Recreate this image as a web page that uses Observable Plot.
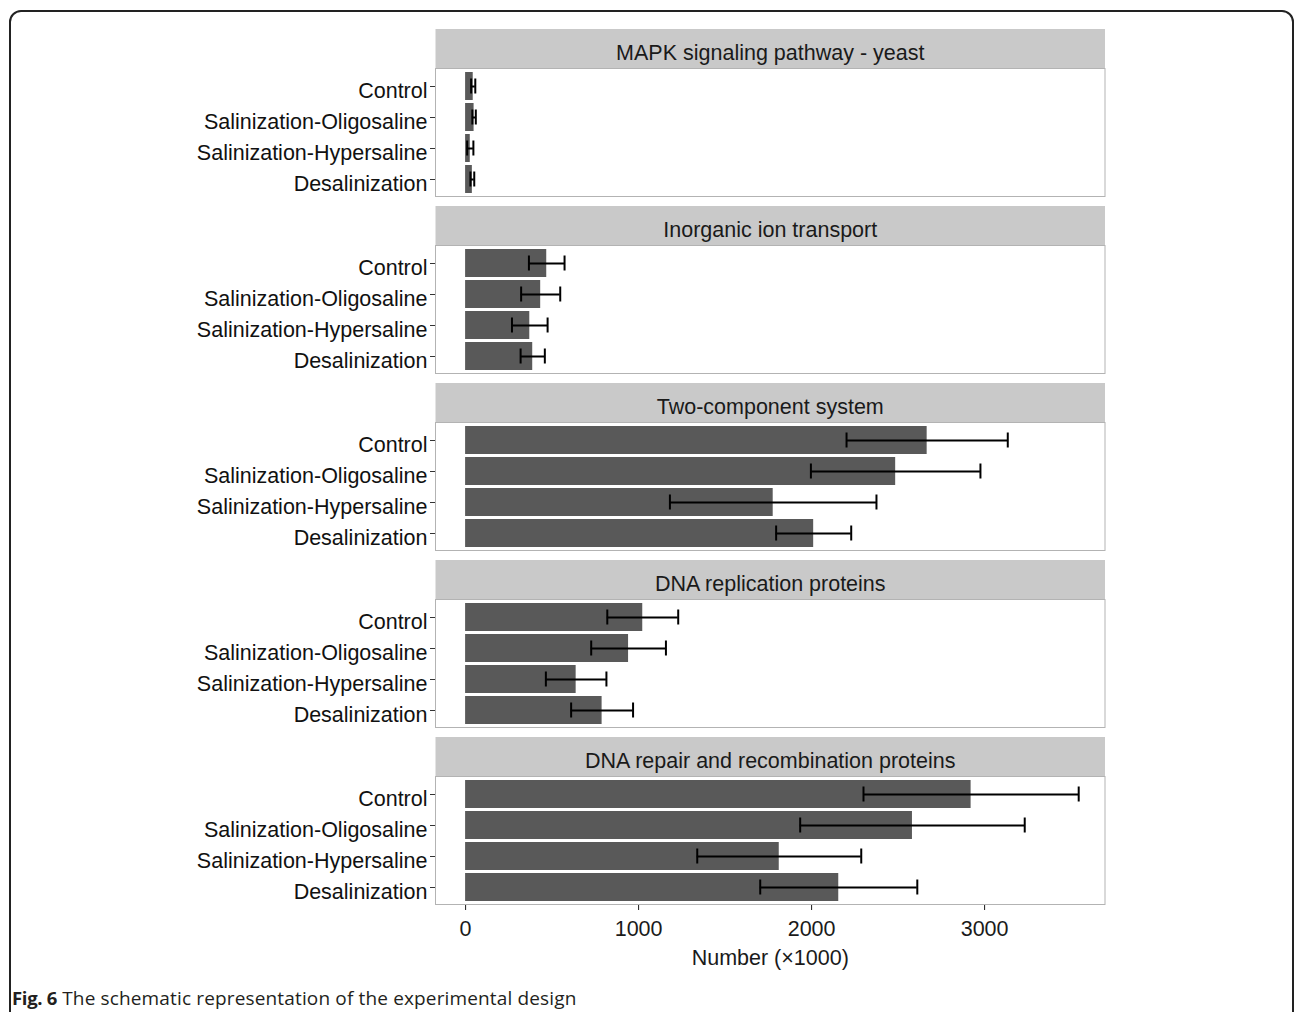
<!DOCTYPE html>
<html>
<head>
<meta charset="utf-8">
<script src="https://cdn.jsdelivr.net/npm/d3@7"></script>
<script src="https://cdn.jsdelivr.net/npm/@observablehq/plot@0.6"></script>
<style>
html, body { margin: 0; padding: 0; background: #fff; overflow: hidden; }
#wrap { position: relative; width: 1295px; height: 1012px; overflow: hidden; background: #fff; }
#box { position: absolute; left: 9px; top: 10px; width: 1285px; height: 1100px; border: 2px solid #222; border-radius: 12px; box-sizing: border-box; }
#chart { position: absolute; left: 0; top: 0; }
#caption { position: absolute; left: 12px; top: 985px; font-family: "Open Sans", sans-serif; font-size: 19px; color: #231f20; white-space: nowrap; letter-spacing: 0.15px; }
#caption b { font-weight: 700; font-size: 18.5px; letter-spacing: -0.3px; }
</style>
</head>
<body>
<div id="wrap">
  <div id="box"></div>
  <div id="chart"></div>
  <div id="caption"><b>Fig. 6</b> The schematic representation of the experimental design</div>
</div>
<script>
// Facet (pathway) names, top to bottom
const pathways = [
  "MAPK signaling pathway - yeast",
  "Inorganic ion transport",
  "Two-component system",
  "DNA replication proteins",
  "DNA repair and recombination proteins"
];

// Treatment groups, top to bottom within each panel
const groups = ["Control", "Salinization-Oligosaline", "Salinization-Hypersaline", "Desalinization"];

// Means (Number ×1000) per group, one array per pathway
const mapkMean    = [44, 49, 27, 39];
const ionMean     = [469, 434, 371, 388];
const twoCompMean = [2668, 2486, 1778, 2012];
const replMean    = [1024, 942, 639, 789];
const repairMean  = [2922, 2583, 1813, 2157];

// Error bar half-widths per group, one array per pathway
const mapkErr    = [12, 10, 18, 11];
const ionErr     = [103, 113, 103, 70];
const twoCompErr = [466, 490, 597, 217];
const replErr    = [205, 216, 175, 179];
const repairErr  = [622, 649, 474, 454];

// x-axis tick values
const xTicks = [0, 1000, 2000, 3000];

const means = [mapkMean, ionMean, twoCompMean, replMean, repairMean];
const errs = [mapkErr, ionErr, twoCompErr, replErr, repairErr];

const data = pathways.flatMap((p, i) => groups.map((g, j) => ({
  pathway: p,
  group: g,
  mean: means[i][j],
  lo: means[i][j] - errs[i][j],
  hi: means[i][j] + errs[i][j]
})));

const chart = Plot.plot({
  width: 1295,
  height: 975,
  marginTop: 68,
  marginLeft: 435,
  marginRight: 190.5,
  marginBottom: 70.5,
  style: {
    fontFamily: "'Liberation Sans', Arial, sans-serif",
    fontSize: "21.5px",
    color: "#1a1a1a",
    background: "transparent",
    overflow: "visible"
  },
  fy: {domain: pathways, axis: null, label: null, paddingInner: 0.2773, paddingOuter: 0},
  y: {domain: groups, label: null, padding: 0.1},
  x: {
    domain: [-174, 3696],
    ticks: xTicks,
    tickFormat: "d",
    tickSize: 6,
    tickPadding: 10,
    label: "Number (×1000)",
    labelAnchor: "center",
    labelArrow: "none",
    labelOffset: 60
  },
  marks: [
    Plot.frame({fill: "#c9c9c9", stroke: "none", insetTop: -39.5}),
    Plot.frame({fill: "white", stroke: "#b3b3b3"}),
    Plot.barX(data, {fy: "pathway", y: "group", x: "mean", fill: "#595959"}),
    Plot.ruleY(data, {fy: "pathway", y: "group", x1: "lo", x2: "hi", stroke: "black", strokeWidth: 2}),
    Plot.tickX(data, {fy: "pathway", y: "group", x: "lo", stroke: "black", strokeWidth: 2, insetTop: 6.5, insetBottom: 6.5}),
    Plot.tickX(data, {fy: "pathway", y: "group", x: "hi", stroke: "black", strokeWidth: 2, insetTop: 6.5, insetBottom: 6.5}),
    // y axis: tick marks, then labels sitting slightly low as in the original
    Plot.axisY({label: null, tickSize: 5, tickFormat: () => "", stroke: "#333"}),
    Plot.axisY({label: null, tickSize: 0, tickPadding: 8, dy: 5, fill: "#111"}),
    Plot.text(pathways, {fy: d => d, text: d => d, frameAnchor: "top", lineAnchor: "middle", dy: -15.5, fill: "#1a1a1a"})
  ]
});

document.getElementById("chart").appendChild(chart);
</script>
</body>
</html>
